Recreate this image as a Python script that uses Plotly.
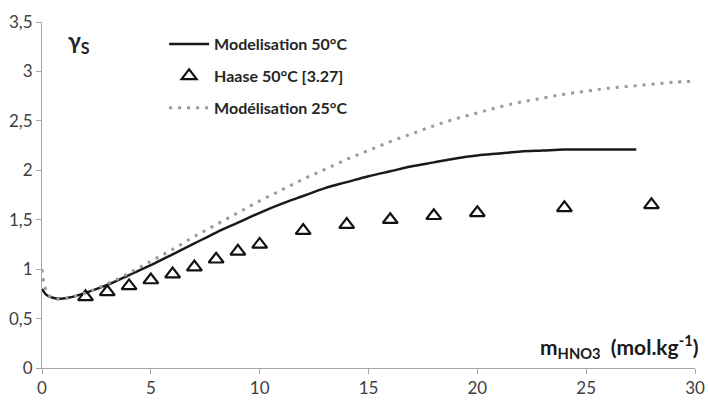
import plotly.graph_objects as go

# Modelisation 50°C
x50 = [0, 0.2, 0.5, 0.8, 1.2, 2, 3, 4, 5, 6, 7, 8, 9, 10, 11, 12, 13, 14, 15,
       16, 17, 18, 19, 20, 21, 22, 23, 24, 25, 26, 27.3]
y50 = [0.80, 0.74, 0.71, 0.70, 0.71, 0.76, 0.84, 0.94, 1.04, 1.15, 1.26, 1.37,
       1.47, 1.57, 1.66, 1.74, 1.82, 1.88, 1.94, 1.99, 2.04, 2.08, 2.12, 2.15,
       2.17, 2.19, 2.20, 2.21, 2.21, 2.21, 2.21]

# Haase 50°C [3.27]
x_haase = [2, 3, 4, 5, 6, 7, 8, 9, 10, 12, 14, 16, 18, 20, 24, 28]
y_haase = [0.72, 0.77, 0.83, 0.89, 0.95, 1.02, 1.10, 1.18, 1.25, 1.39, 1.45,
           1.50, 1.54, 1.57, 1.62, 1.65]

# Modélisation 25°C
x25 = [0, 0.1, 0.3, 0.6, 1, 2, 3, 4, 5, 6, 7, 8, 9, 10, 11, 12, 13, 14, 15,
       16, 17, 18, 19, 20, 21, 22, 23, 24, 25, 26, 27, 28, 29, 30]
y25 = [1.00, 0.85, 0.74, 0.70, 0.70, 0.76, 0.85, 0.96, 1.08, 1.20, 1.33, 1.45,
       1.57, 1.69, 1.80, 1.91, 2.01, 2.11, 2.20, 2.29, 2.37, 2.45, 2.52, 2.58,
       2.64, 2.69, 2.73, 2.77, 2.80, 2.83, 2.85, 2.87, 2.89, 2.90]

fig = go.Figure()
fig.add_trace(go.Scatter(x=x50, y=y50, mode="lines", name="Modelisation 50°C",
                         legendgroup="a",
                         line=dict(color="#1a1a1a", width=2.5, shape="spline")))
fig.add_trace(go.Scatter(x=x_haase, y=y_haase, mode="markers", name="Haase 50°C [3.27]",
                         legendgroup="b",
                         marker=dict(symbol="triangle-up-open", size=13, color="#111111",
                                     line=dict(width=2.2, color="#111111"))))
fig.add_trace(go.Scatter(x=x25, y=y25, mode="lines", name="Modélisation 25°C",
                         legendgroup="c",
                         line=dict(color="#9a9a9a", width=3, dash="3px,6px", shape="spline")))

fig.add_annotation(x=0.036, y=0.995, xref="paper", yref="paper", xanchor="left", yanchor="top",
                   text="<b>γ<sub>S</sub></b>", showarrow=False,
                   font=dict(size=23, color="#262626"))
fig.add_annotation(x=1.008, y=0.012, xref="paper", yref="paper", xanchor="right", yanchor="bottom",
                   text="<b>m<sub>HNO3</sub>  (mol.kg<sup>-1</sup>)</b>", showarrow=False,
                   font=dict(size=21, color="#1a1a1a"))

axis_style = dict(showgrid=False, zeroline=False, showline=True, linecolor="#a6a6a6",
                  linewidth=1, ticks="outside", tickcolor="#a6a6a6", ticklen=5,
                  automargin=False,
                  tickfont=dict(size=17, color="#404040"))
fig.update_xaxes(range=[0, 30], dtick=5, **axis_style)
fig.update_yaxes(range=[0, 3.5], dtick=0.5, **axis_style)

fig.update_layout(
    width=708, height=401,
    margin=dict(l=42, r=13, t=22, b=33),
    plot_bgcolor="white", paper_bgcolor="white",
    separators=", ",
    showlegend=True,
    font=dict(family="Lato, 'Open Sans', sans-serif"),
    legend=dict(x=0.187, y=0.985, xanchor="left", yanchor="top",
                bgcolor="rgba(0,0,0,0)", tracegroupgap=8, itemwidth=40,
                traceorder="grouped",
                font=dict(size=16, color="#262626", weight="bold")),
)

# drop the default page margin so the figure sits at the window's corner
fig.write_html("out.html", config={"displayModeBar": False},
               post_script="document.body.style.margin='0';")
